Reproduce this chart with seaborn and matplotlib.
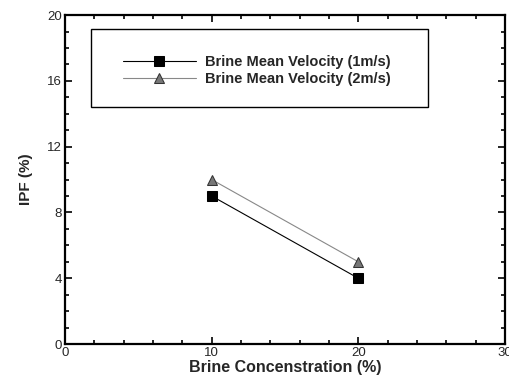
import pandas as pd
import matplotlib
matplotlib.use('Agg')
import matplotlib.pyplot as plt
from matplotlib.patches import Rectangle
from matplotlib.ticker import MultipleLocator
import seaborn as sns

# data
concentration = [10, 20]
ipf_1ms = [9, 4]
ipf_2ms = [10, 5]
labels = ['Brine Mean Velocity (1m/s)', 'Brine Mean Velocity (2m/s)']

df = pd.DataFrame({
    'Concentration': concentration * 2,
    'IPF': ipf_1ms + ipf_2ms,
    'Series': [labels[0]] * 2 + [labels[1]] * 2,
})

sns.set_style('ticks')
plt.rcParams['font.family'] = ['Liberation Sans', 'DejaVu Sans']

fig = plt.figure(figsize=(5.1, 3.77), dpi=100)
ax = fig.add_axes([0.1275, 0.0875, 0.8625, 0.8725])

sns.lineplot(data=df[df['Series'] == labels[0]], x='Concentration', y='IPF',
             color='black', marker='s', markersize=6.5, linewidth=0.8,
             markeredgecolor='black', label=labels[0], ax=ax)
sns.lineplot(data=df[df['Series'] == labels[1]], x='Concentration', y='IPF',
             color='#888888', marker='^', markersize=6.5, linewidth=0.8,
             markerfacecolor='#777777', markeredgecolor='#333333',
             label=labels[1], ax=ax)

ax.set_xlim(0, 30)
ax.set_ylim(0, 20)
ax.xaxis.set_major_locator(MultipleLocator(10))
ax.xaxis.set_minor_locator(MultipleLocator(2))
ax.yaxis.set_major_locator(MultipleLocator(4))
ax.yaxis.set_minor_locator(MultipleLocator(1))
ax.tick_params(which='both', direction='in', top=True, right=True,
               labelsize=9.5, width=1.2, color='black')
ax.tick_params(which='major', length=5, pad=2)
ax.tick_params(which='minor', length=3)
for s in ax.spines.values():
    s.set_linewidth(1.6)
    s.set_color('black')

ax.set_xlabel('Brine Concenstration (%)', fontsize=11.5, fontweight='bold', labelpad=1)
ax.set_ylabel('IPF (%)', fontsize=11, fontweight='bold', labelpad=10)

# legend box
ax.add_patch(Rectangle((0.059, 0.72), 0.766, 0.237, transform=ax.transAxes,
                       fill=False, edgecolor='black', linewidth=1.0, zorder=3))
ax.legend(loc='upper left', bbox_to_anchor=(0.115, 0.90), frameon=False,
          handlelength=5.0, handletextpad=0.6, labelspacing=0.2, borderpad=0,
          prop={'weight': 'bold', 'size': 10.5})

fig.savefig('out.png', dpi=100)
